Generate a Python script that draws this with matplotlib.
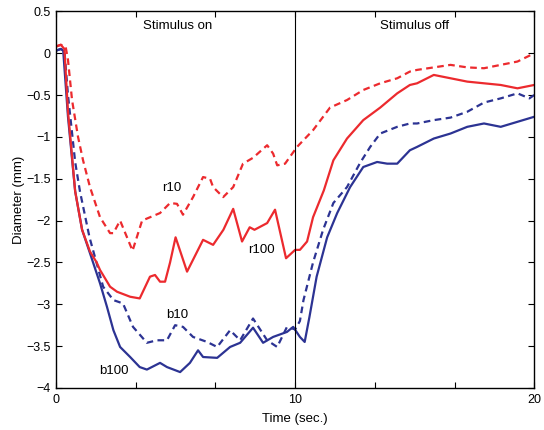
import matplotlib
matplotlib.use("Agg")
import matplotlib.pyplot as plt

plt.rcParams['font.family'] = ['Liberation Sans', 'DejaVu Sans']

# ---- data ----
r10_x = [0.0, 0.2, 0.4, 0.5, 0.67, 0.92, 1.13, 1.42, 1.84, 2.26, 2.4, 2.68, 3.2, 3.6, 4.35, 4.77,
         5.06, 5.31, 5.73, 6.15, 6.44, 6.57, 6.99, 7.41, 7.82, 8.24, 8.83, 9.08, 9.25, 9.58, 10.08,
         10.75, 11.46, 12.17, 12.85, 13.56, 14.27, 14.8, 15.1, 15.8, 16.5, 17.2, 17.9, 18.6, 19.3,
         19.8, 20.0]
r10_y = [0.08, 0.1, 0.08, -0.08, -0.56, -1.0, -1.28, -1.6, -1.96, -2.15, -2.15, -2.0, -2.36, -2.0,
         -1.91, -1.79, -1.8, -1.93, -1.72, -1.48, -1.5, -1.6, -1.72, -1.6, -1.32, -1.25, -1.1, -1.2,
         -1.34, -1.32, -1.12, -0.92, -0.65, -0.56, -0.44, -0.36, -0.3, -0.22, -0.2, -0.17, -0.14,
         -0.17, -0.18, -0.14, -0.1, -0.03, 0.0]

r100_x = [0.0, 0.2, 0.35, 0.5, 0.8, 1.09, 1.42, 1.7, 1.84, 2.26, 2.55, 3.1, 3.5, 3.93, 4.14, 4.35,
          4.56, 4.77, 5.0, 5.48, 6.15, 6.57, 7.0, 7.41, 7.78, 8.1, 8.3, 8.83, 9.16, 9.62, 10.0,
          10.2, 10.5, 10.75, 11.2, 11.6, 12.17, 12.85, 13.56, 14.27, 14.8, 15.1, 15.8, 16.5, 17.2,
          17.9, 18.6, 19.3, 20.0]
r100_y = [0.08, 0.1, 0.05, -0.7, -1.65, -2.11, -2.37, -2.5, -2.59, -2.79, -2.85, -2.91, -2.93,
          -2.67, -2.65, -2.73, -2.73, -2.5, -2.2, -2.61, -2.23, -2.29, -2.11, -1.86, -2.25, -2.08,
          -2.11, -2.03, -1.87, -2.45, -2.35, -2.35, -2.25, -1.96, -1.64, -1.28, -1.02, -0.8, -0.65,
          -0.48, -0.38, -0.36, -0.26, -0.3, -0.34, -0.36, -0.38, -0.42, -0.38]

b10_x = [0.0, 0.2, 0.35, 0.5, 0.8, 1.0, 1.4, 1.97, 2.4, 2.8, 3.22, 3.8, 4.22, 4.64, 4.98, 5.31,
         5.73, 6.32, 6.74, 7.28, 7.7, 8.24, 8.83, 9.25, 9.66, 10.0, 10.2, 10.35, 10.75, 11.17,
         11.6, 12.17, 12.72, 13.14, 13.56, 14.27, 14.8, 15.1, 15.8, 16.5, 17.2, 17.9, 18.6, 19.3,
         19.8, 20.0]
b10_y = [0.03, 0.05, 0.03, -0.5, -1.3, -1.65, -2.2, -2.79, -2.95, -2.99, -3.27, -3.46, -3.43,
         -3.43, -3.25, -3.27, -3.39, -3.45, -3.51, -3.31, -3.43, -3.17, -3.43, -3.51, -3.27, -3.3,
         -3.2, -2.95, -2.5, -2.11, -1.79, -1.6, -1.31, -1.12, -0.96, -0.88, -0.84, -0.84, -0.8,
         -0.77, -0.7, -0.59, -0.54, -0.48, -0.54, -0.5]

b100_x = [0.0, 0.2, 0.3, 0.5, 0.8, 1.09, 1.42, 1.84, 2.13, 2.4, 2.68, 3.1, 3.5, 3.8, 4.35, 4.64,
          5.19, 5.6, 5.94, 6.15, 6.74, 7.28, 7.7, 8.24, 8.66, 9.08, 9.66, 9.92, 10.2, 10.4, 10.6,
          10.9, 11.34, 11.76, 12.3, 12.85, 13.43, 13.85, 14.27, 14.8, 15.1, 15.8, 16.5, 17.2,
          17.9, 18.6, 19.3, 20.0]
b100_y = [0.03, 0.05, 0.03, -0.76, -1.65, -2.11, -2.39, -2.75, -3.03, -3.31, -3.51, -3.63, -3.75,
          -3.78, -3.7, -3.75, -3.81, -3.7, -3.55, -3.63, -3.64, -3.51, -3.46, -3.28, -3.46, -3.39,
          -3.33, -3.27, -3.39, -3.45, -3.15, -2.67, -2.2, -1.91, -1.6, -1.36, -1.3, -1.32, -1.32,
          -1.16, -1.12, -1.02, -0.96, -0.88, -0.84, -0.88, -0.82, -0.76]

x_ticks = [0, 10/3, 20/3, 10, 40/3, 50/3, 20]
x_ticklabels = ['0', '', '', '10', '', '', '20']
y_ticks = [0.5, 0, -0.5, -1, -1.5, -2, -2.5, -3, -3.5, -4]
y_ticklabels = ['0.5', '0', '\u22120.5', '\u22121', '\u22121.5', '\u22122', '\u22122.5', '\u22123',
                '\u22123.5', '\u22124']

RED = '#ec2a2e'
BLUE = '#2c3393'
FS = 9.5

fig = plt.figure(figsize=(5.44, 4.30), dpi=100)
ax = fig.add_axes([0.103, 0.0977, 0.879, 0.876])

ax.plot(b100_x, b100_y, color=BLUE, lw=1.6, solid_joinstyle='round')
ax.plot(b10_x, b10_y, color=BLUE, lw=1.6, linestyle=(0, (3, 2)))
ax.plot(r100_x, r100_y, color=RED, lw=1.6, solid_joinstyle='round')
ax.plot(r10_x, r10_y, color=RED, lw=1.6, linestyle=(0, (3, 2)))

ax.axvline(10, color='black', lw=0.8)

ax.set_xlim(0, 20)
ax.set_ylim(-4, 0.5)
ax.set_xticks(x_ticks)
ax.set_xticklabels(x_ticklabels)
ax.set_yticks(y_ticks)
ax.set_yticklabels(y_ticklabels)
ax.tick_params(direction='in', length=4, width=0.8, top=True, right=True, labelsize=9, pad=4)
for s in ax.spines.values():
    s.set_linewidth(1.0)

ax.set_xlabel('Time (sec.)', fontsize=FS)
ax.set_ylabel('Diameter (mm)', fontsize=FS)
ax.xaxis.set_label_coords(0.5, -0.066)
ax.yaxis.set_label_coords(-0.065, 0.5)

ax.text(5.1, 0.32, 'Stimulus on', ha='center', va='center', fontsize=FS)
ax.text(15.0, 0.32, 'Stimulus off', ha='center', va='center', fontsize=FS)
ax.text(4.85, -1.61, 'r10', ha='center', va='center', fontsize=FS)
ax.text(8.6, -2.35, 'r100', ha='center', va='center', fontsize=FS)
ax.text(5.05, -3.13, 'b10', ha='center', va='center', fontsize=FS)
ax.text(2.4, -3.8, 'b100', ha='center', va='center', fontsize=FS)

fig.savefig('out.png', dpi=100)
